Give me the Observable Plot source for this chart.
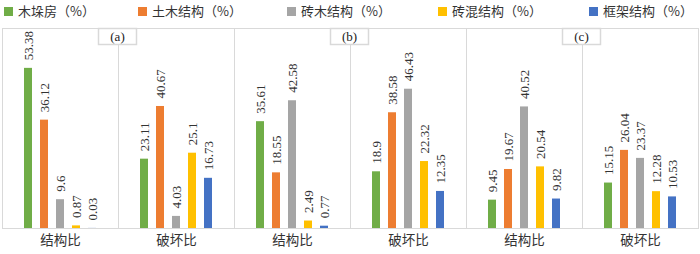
<!DOCTYPE html>
<html>
<head>
<meta charset="utf-8">
<script src="https://cdn.jsdelivr.net/npm/d3@7"></script>
<script src="https://cdn.jsdelivr.net/npm/@observablehq/plot@0.6"></script>
<style>
  html, body { margin: 0; padding: 0; background: #fff; }
  #legend { position: relative; width: 700px; height: 22px; font-family: "Noto Sans CJK SC", sans-serif; font-size: 13px; color: #333; }
  .item { position: absolute; top: 2px; white-space: nowrap; line-height: 17px; }
  .sw { display: inline-block; width: 9px; height: 9px; margin-right: 5px; vertical-align: -0px; }
  svg { display: block; }
</style>
</head>
<body>
<div id="legend"></div>
<div id="chart"></div>
<script>
const series = ["木垛房", "土木结构", "砖木结构", "砖混结构", "框架结构"];
const colors = ["#70ad47", "#ed7d31", "#a5a5a5", "#ffc000", "#4472c4"];
const panels = ["(a)", "(b)", "(c)"];
const metrics = ["结构比", "破坏比"];

const a_struct = [53.38, 36.12, 9.6, 0.87, 0.03];
const a_damage = [23.11, 40.67, 4.03, 25.1, 16.73];
const b_struct = [35.61, 18.55, 42.58, 2.49, 0.77];
const b_damage = [18.9, 38.58, 46.43, 22.32, 12.35];
const c_struct = [9.45, 19.67, 40.52, 20.54, 9.82];
const c_damage = [15.15, 26.04, 23.37, 12.28, 10.53];

const valueSets = [[a_struct, a_damage], [b_struct, b_damage], [c_struct, c_damage]];
const legendLeft = [4, 138, 287, 438, 589];

const lg = document.getElementById("legend");
series.forEach((s, i) => {
  const d = document.createElement("div");
  d.className = "item";
  d.style.left = legendLeft[i] + "px";
  d.innerHTML = `<span class="sw" style="background:${colors[i]}"></span>${s}（%）`;
  lg.appendChild(d);
});

const keys = [];
const rows = [];
panels.forEach((p, pi) => {
  metrics.forEach((m, mi) => {
    const k = p + "|" + m;
    keys.push(k);
    valueSets[pi][mi].forEach((v, si) => rows.push({fx: k, series: series[si], value: v}));
  });
});
const boxes = panels.map(p => ({fx: p + "|" + metrics[1], label: p}));

const grid = "#d9d9d9";
const chart = Plot.plot({
  width: 700,
  height: 232,
  marginTop: 6,
  marginBottom: 26,
  marginLeft: 0,
  marginRight: 0,
  style: {fontFamily: "'Noto Sans CJK SC', sans-serif", fontSize: "13.5px", color: "#333", background: "#fff"},
  fx: {domain: keys, padding: 0, label: null, tickFormat: d => d.split("|")[1], tickSize: 0, tickPadding: 7, axis: "bottom"},
  x: {domain: series, paddingInner: 0.47, paddingOuter: 1.16, axis: null},
  y: {domain: [0, 200 / 3], axis: null},
  color: {domain: series, range: colors},
  marks: [
    Plot.frame({anchor: "top", stroke: grid}),
    Plot.frame({anchor: "left", stroke: grid}),
    Plot.frame({anchor: "right", stroke: grid}),
    Plot.ruleY([0], {stroke: grid}),
    Plot.barY(rows, {fx: "fx", x: "series", y: "value", fill: "series"}),
    Plot.text(rows, {fx: "fx", x: "series", y: "value", text: d => String(d.value), rotate: -90, textAnchor: "start", dy: -8, fontSize: 13, fontFamily: "'Liberation Serif', serif", fill: "#333"}),
    Plot.dot(boxes, {fx: "fx", frameAnchor: "top-left", dy: 8, dx: -1, symbol: {draw(c) { c.rect(-19, -8, 38, 16); }}, fill: "#fff", stroke: grid}),
    Plot.text(boxes, {fx: "fx", frameAnchor: "top-left", dy: 8, dx: -1, lineAnchor: "middle", text: "label", textAnchor: "middle", fontSize: 13, fontFamily: "'Liberation Serif', serif", fill: "#222"})
  ]
});
document.getElementById("chart").appendChild(chart);
</script>
</body>
</html>
